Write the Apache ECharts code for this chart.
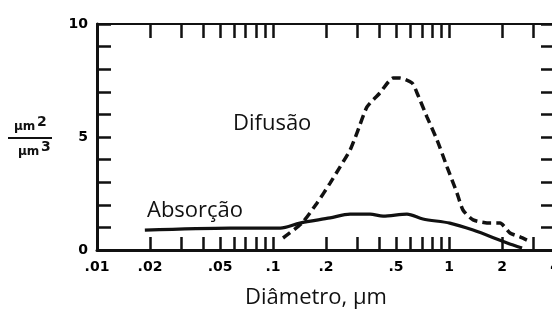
<!DOCTYPE html>
<html>
<head>
<meta charset="utf-8">
<script src="https://cdn.jsdelivr.net/npm/echarts@6/dist/echarts.min.js"></script>
<style>
html, body { margin: 0; padding: 0; background: #fff; }
#chart { width: 552px; height: 309px; }
</style>
</head>
<body>
<div id="chart"></div>
<script>
// diametro (um) - eixo logaritmico
var xLabelValues = [0.01, 0.02, 0.05, 0.1, 0.2, 0.5, 1, 2, 4];
var xTickValues = [0.01, 0.02, 0.03, 0.04, 0.05, 0.06, 0.07, 0.08, 0.09,
    0.1, 0.2, 0.3, 0.4, 0.5, 0.6, 0.7, 0.8, 0.9, 1, 2, 3, 4];
var yLabelValues = [0, 5, 10];

// Difusao (tracejada)
var difusaoX = [0.114, 0.146, 0.178, 0.211, 0.240, 0.274, 0.30, 0.342, 0.405, 0.481, 0.525,
    0.617, 0.658, 0.75, 0.855, 0.975, 1.11, 1.2, 1.37, 1.71, 1.95, 2.22, 2.53, 2.77];
var difusaoY = [0.53, 1.19, 2.08, 2.96, 3.67, 4.42, 5.18, 6.33, 6.95, 7.61, 7.61,
    7.39, 6.95, 5.88, 4.87, 3.67, 2.52, 1.77, 1.33, 1.19, 1.19, 0.75, 0.58, 0.44];

// Absorcao (continua)
var absorcaoX = [0.0187, 0.057, 0.11, 0.142, 0.211, 0.274, 0.356, 0.422, 0.577, 0.711,
    1.01, 1.37, 2.14, 2.6];
var absorcaoY = [0.88, 0.97, 0.97, 1.19, 1.42, 1.59, 1.59, 1.50, 1.59, 1.37,
    1.19, 0.88, 0.31, 0.09];

function pares(xs, ys) {
    var out = [];
    for (var i = 0; i < xs.length; i++) out.push([xs[i], ys[i]]);
    return out;
}

var chart = echarts.init(document.getElementById('chart'), null, { renderer: 'canvas' });

var tickFont = { color: '#000', fontFamily: 'DejaVu Sans', fontWeight: 'bold', fontSize: 14 };
var fracFont = 'bold 12px "DejaVu Sans"';
var supFont = 'bold 14px "DejaVu Sans"';

var option = {
    animation: false,
    grid: { left: 97, right: -3, top: 24, bottom: 59, outerBoundsMode: 'none', containLabel: false },
    xAxis: [
        {
            type: 'log', logBase: 10, min: 0.01, max: 4, position: 'bottom',
            axisLine: { show: true, onZero: false, lineStyle: { color: '#111', width: 3 } },
            axisTick: { show: true, inside: true, length: 13, customValues: xTickValues,
                lineStyle: { color: '#111', width: 2.5 } },
            axisLabel: Object.assign({
                customValues: xLabelValues, margin: 10,
                formatter: function (v) { return String(v).replace(/^0\./, '.'); }
            }, tickFont),
            splitLine: { show: false }, minorTick: { show: false },
            name: 'Diâmetro, µm', nameLocation: 'middle', nameGap: 37,
            nameTextStyle: { fontFamily: 'Open Sans', fontSize: 22, color: '#111', padding: [0, 20, 0, 0] }
        },
        {
            type: 'log', logBase: 10, min: 0.01, max: 4, position: 'top',
            axisLine: { show: true, onZero: false, lineStyle: { color: '#111', width: 2 } },
            axisTick: { show: true, inside: true, length: 14, customValues: xTickValues,
                lineStyle: { color: '#111', width: 2.5 } },
            axisLabel: { show: false }, splitLine: { show: false }
        }
    ],
    yAxis: [
        {
            type: 'value', min: 0, max: 10, interval: 1, position: 'left',
            axisLine: { show: true, onZero: false, lineStyle: { color: '#111', width: 3 } },
            axisTick: { show: true, inside: true, length: 14, lineStyle: { color: '#111', width: 2.5 } },
            axisLabel: Object.assign({ customValues: yLabelValues, margin: 9 }, tickFont),
            splitLine: { show: false }
        },
        {
            type: 'value', min: 0, max: 10, interval: 1, position: 'right',
            axisLine: { show: true, onZero: false, lineStyle: { color: '#111', width: 3 } },
            axisTick: { show: true, inside: true, length: 14, lineStyle: { color: '#111', width: 2.5 } },
            axisLabel: { show: false }, splitLine: { show: false }
        }
    ],
    series: [
        {
            name: 'Difusão', type: 'line', xAxisIndex: 0, yAxisIndex: 0,
            data: pares(difusaoX, difusaoY), showSymbol: false, smooth: 0.2,
            lineStyle: { color: '#111', width: 3.5, type: [9, 5] }
        },
        {
            name: 'Absorção', type: 'line', xAxisIndex: 0, yAxisIndex: 0,
            data: pares(absorcaoX, absorcaoY), showSymbol: false, smooth: 0.3,
            lineStyle: { color: '#111', width: 3.2 }
        }
    ],
    graphic: [
        { type: 'text', left: 233, top: 113, style: { text: 'Difusão', fill: '#111', font: '22px "Open Sans"' } },
        { type: 'text', left: 147, top: 200, style: { text: 'Absorção', fill: '#111', font: '22px "Open Sans"' } },
        // unidade do eixo y: um2 / um3
        { type: 'text', left: 14, top: 121, style: { text: 'µm', fill: '#111', font: fracFont } },
        { type: 'text', left: 37, top: 115, style: { text: '2', fill: '#111', font: supFont } },
        { type: 'line', shape: { x1: 8, y1: 138, x2: 52, y2: 138 }, style: { stroke: '#111', lineWidth: 2 } },
        { type: 'text', left: 18, top: 146, style: { text: 'µm', fill: '#111', font: fracFont } },
        { type: 'text', left: 41, top: 140, style: { text: '3', fill: '#111', font: supFont } }
    ]
};

chart.setOption(option);
</script>
</body>
</html>
